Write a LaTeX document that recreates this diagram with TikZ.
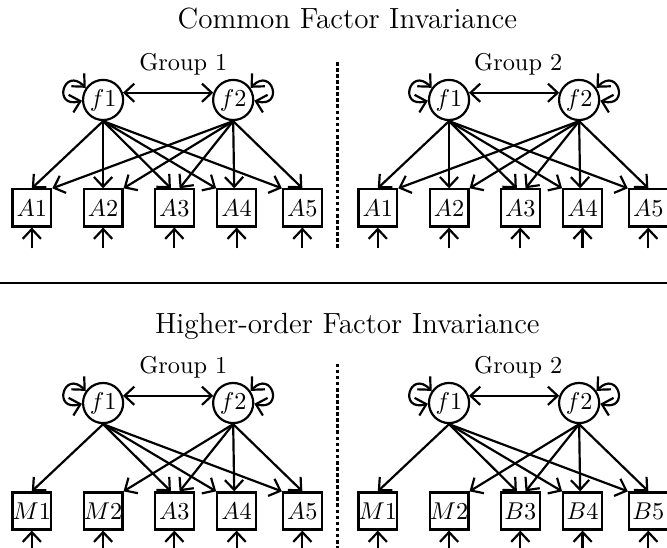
\documentclass[tikz,border=0pt]{standalone}
\usepackage{tikz}
\usetikzlibrary{positioning, arrows.meta}

\tikzset{
    >={Straight Barb[length=4pt, width=7.5pt]},
    latent/.style={draw, circle, line width=0.9pt, minimum size=0.58cm, inner sep=0pt},
    manifest/.style={draw, rectangle, line width=0.9pt, minimum width=0.56cm, minimum height=0.535cm, inner sep=0pt},
    heading/.style={font=\large, text height=1.5ex, text depth=.25ex},
    grouplabel/.style={text height=1.5ex, text depth=.25ex},
    load/.style={->, line width=0.9pt},
    cov/.style={<->, line width=0.9pt},
    divider/.style={line width=1.1pt, dash pattern=on 1.5pt off 1pt},
}

\begin{document}
\begin{tikzpicture}[on grid]
    \useasboundingbox (-1.49,1.445) rectangle (8.15,-6.475);

    % common factor model
    \node[latent] (g1f1) {$f1$};
    \node[latent, right=1.88cm of g1f1] (g1f2) {$f2$};
    \node[manifest, below left=1.56cm and 1.03cm of g1f1] (g1x1) {$A1$};
    \node[manifest, below=1.56cm of g1f1] (g1x2) {$A2$};
    \node[manifest, right=1.03cm of g1x2] (g1x3) {$A3$};
    \node[manifest, right=0.9cm of g1x3] (g1x4) {$A4$};
    \node[manifest, right=0.95cm of g1x4] (g1x5) {$A5$};

    \node[latent, right=5cm of g1f1] (g2f1) {$f1$};
    \node[latent, right=1.88cm of g2f1] (g2f2) {$f2$};
    \node[manifest, below left=1.56cm and 1.03cm of g2f1] (g2x1) {$A1$};
    \node[manifest, below=1.56cm of g2f1] (g2x2) {$A2$};
    \node[manifest, right=1.03cm of g2x2] (g2x3) {$A3$};
    \node[manifest, right=0.9cm of g2x3] (g2x4) {$A4$};
    \node[manifest, right=0.95cm of g2x4] (g2x5) {$A5$};

    \node[heading, above right=1.13cm and 3.53cm of g1f1] (ctitle) {Common Factor Invariance};
    \node[grouplabel, above right=0.52cm and 1.16cm of g1f1] (g1lab) {Group 1};
    \node[grouplabel, above right=0.52cm and 1.0cm of g2f1] (g2lab) {Group 2};

    % higher-order model
    \node[latent, below=4.38cm of g1f1] (h1f1) {$f1$};
    \node[latent, right=1.88cm of h1f1] (h1f2) {$f2$};
    \node[manifest, below left=1.56cm and 1.03cm of h1f1] (h1x1) {$M1$};
    \node[manifest, below=1.56cm of h1f1] (h1x2) {$M2$};
    \node[manifest, right=1.03cm of h1x2] (h1x3) {$A3$};
    \node[manifest, right=0.9cm of h1x3] (h1x4) {$A4$};
    \node[manifest, right=0.95cm of h1x4] (h1x5) {$A5$};

    \node[latent, right=5cm of h1f1] (h2f1) {$f1$};
    \node[latent, right=1.88cm of h2f1] (h2f2) {$f2$};
    \node[manifest, below left=1.56cm and 1.03cm of h2f1] (h2x1) {$M1$};
    \node[manifest, below=1.56cm of h2f1] (h2x2) {$M2$};
    \node[manifest, right=1.03cm of h2x2] (h2x3) {$B3$};
    \node[manifest, right=0.9cm of h2x3] (h2x4) {$B4$};
    \node[manifest, right=0.95cm of h2x4] (h2x5) {$B5$};

    \node[heading, below=4.41cm of ctitle] (htitle) {Higher-order Factor Invariance};
    \node[grouplabel, above right=0.52cm and 1.16cm of h1f1] (h1lab) {Group 1};
    \node[grouplabel, above right=0.52cm and 1.0cm of h2f1] (h2lab) {Group 2};

    % variances, covariance and errors
    \foreach \g in {g1, g2, h1, h2} {
        \draw[cov] (\g f1.20) -- (\g f2.160);
        \draw[cov] (\g f1.145) .. controls +(135:0.45) and +(195:0.45) .. (\g f1.182);
        \draw[cov] (\g f2.35) .. controls +(45:0.45) and +(-15:0.45) .. (\g f2.-2);
        \foreach \i in {1,...,5} {
            \coordinate[below=0.3cm of \g x\i.south] (\g e\i);
            \draw[load] (\g e\i) -- (\g x\i);
        }
    }

    % loadings
    \foreach \g in {g1, g2} {
        \foreach \i/\a in {1/north, 2/north, 3/100, 4/north west, 5/north west}
            \draw[load] (\g f1.south) -- (\g x\i.\a);
        \foreach \i/\a in {1/north east, 2/north east, 3/75, 4/97, 5/north}
            \draw[load] (\g f2.south) -- (\g x\i.\a);
    }
    \foreach \g in {h1, h2} {
        \foreach \i/\a in {1/north, 3/100, 4/north west, 5/north west}
            \draw[load] (\g f1.south) -- (\g x\i.\a);
        \foreach \i/\a in {2/north east, 3/75, 4/97, 5/north}
            \draw[load] (\g f2.south) -- (\g x\i.\a);
    }

    % separators
    \coordinate[above right=0.55cm and 3.39cm of g1f1] (ctop);
    \coordinate[below=2.69cm of ctop] (cbot);
    \coordinate[below=4.36cm of ctop] (htop);
    \coordinate[below=2.69cm of htop] (hbot);
    \draw[divider] (ctop) -- (cbot);
    \draw[divider] (htop) -- (hbot);
    \coordinate[below left=2.645cm and 1.49cm of g1f1] (rulel);
    \coordinate[right=9.64cm of rulel] (ruler);
    \draw[line width=0.9pt] (rulel) -- (ruler);
\end{tikzpicture}
\end{document}
